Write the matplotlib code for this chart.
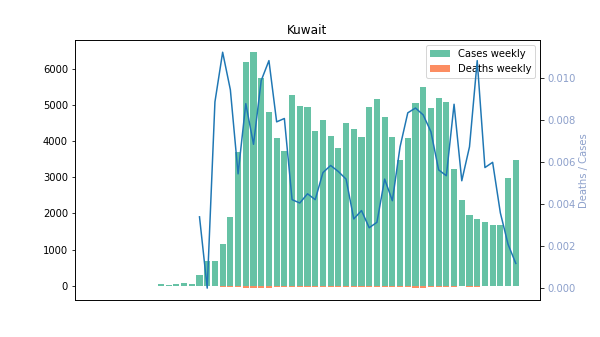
import numpy as np
import matplotlib
matplotlib.use('Agg')
import matplotlib.pyplot as plt

country = 'Kuwait'

# weekly cases (week 0 .. 54), first weeks empty
cases = [0, 0, 0, 0, 0, 0, 0, 0,
         50, 20, 50, 80, 50, 300, 690, 690, 1160, 1900, 3690, 6170,
         6450, 5730, 4790, 4080, 3720, 5280, 4980, 4950, 4290, 4570,
         4130, 3800, 4490, 4320, 4100, 4950, 5170, 4650, 4100, 3470,
         4070, 5040, 5480, 4900, 5200, 5090, 3220, 2370, 1960, 1840,
         1760, 1680, 1680, 2970, 3470]

# weekly deaths (drawn downward)
deaths = [0] * 16 + [30, 30, 30, 60, 60, 60, 60, 35, 35, 30,
                     30, 30, 30, 30, 30, 30, 30, 30, 30, 30,
                     30, 30, 30, 30, 30, 60, 60, 30, 30, 30,
                     30, 0, 30, 30, 0, 0, 0, 0, 0]

ratio = [np.nan] * 13 + [0.0034, 0.0, 0.00888, 0.01125, 0.00946, 0.00545, 0.0088,
                         0.00686, 0.0099, 0.01085, 0.00793, 0.00809, 0.00422,
                         0.00406, 0.0045, 0.00422, 0.00551, 0.00585, 0.00556,
                         0.0052, 0.0033, 0.0037, 0.00288, 0.00314, 0.0052,
                         0.00417, 0.00674, 0.00836, 0.00859, 0.00826, 0.00746,
                         0.00564, 0.00536, 0.00877, 0.00512, 0.00674, 0.01085,
                         0.00575, 0.006, 0.00359, 0.00209, 0.00118]

weeks = np.arange(len(cases))

fig, ax = plt.subplots(figsize=(600 / 72, 337 / 72), dpi=72)
ax.bar(weeks, cases, color='#66c2a5', label='Cases weekly')
ax.bar(weeks, -np.array(deaths), color='#fc8d62', label='Deaths weekly')
ax.set_xticks([])
ax.set_title(country)
ax.legend(loc='upper right')

ax2 = ax.twinx()
ax2.plot(weeks, ratio, color='#1f77b4')
ax2.set_ylabel('Deaths / Cases', color='#8da0cb')
ax2.tick_params(axis='y', labelcolor='#8da0cb')

fig.savefig('out.png')
